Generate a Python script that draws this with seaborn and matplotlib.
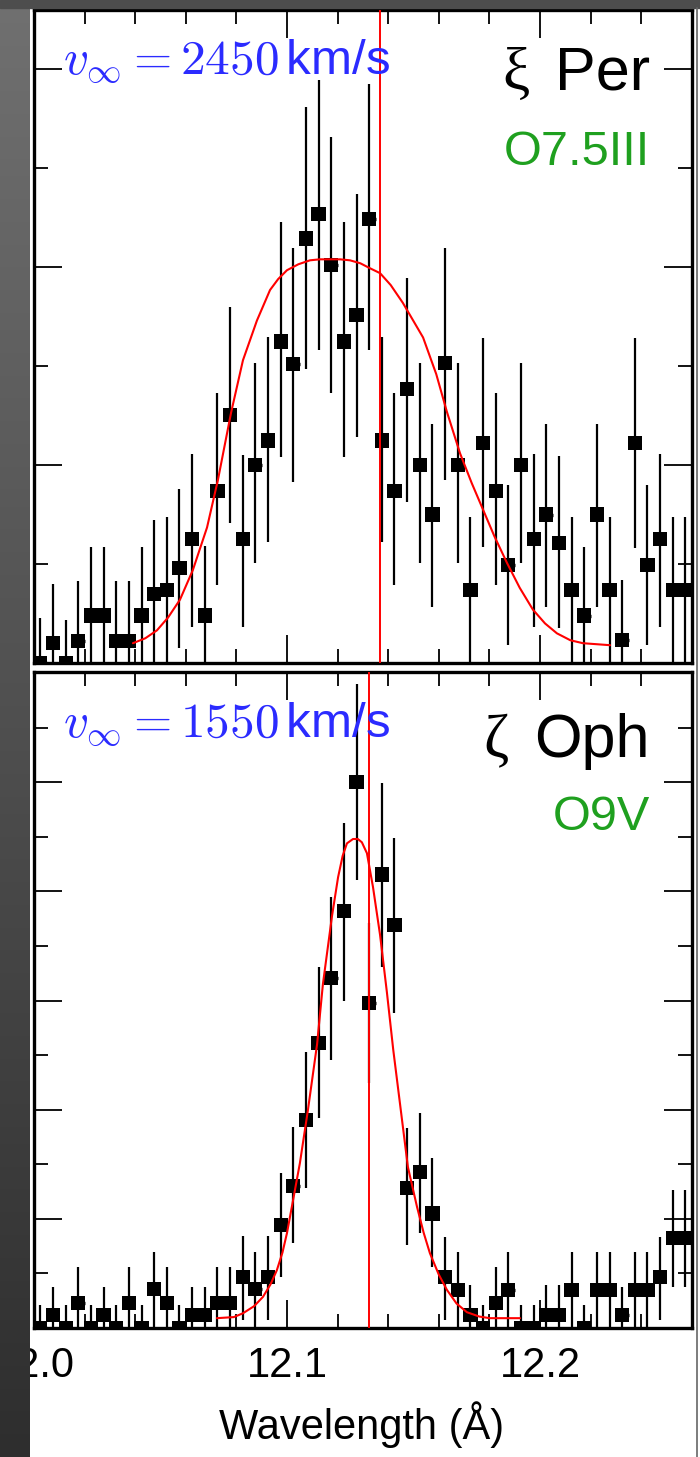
import numpy as np
import pandas as pd
import matplotlib
matplotlib.use("Agg")
import matplotlib.pyplot as plt
import seaborn as sns
from matplotlib.ticker import MultipleLocator, FormatStrFormatter
from matplotlib.patches import Rectangle
from matplotlib.lines import Line2D
from matplotlib.colors import LinearSegmentedColormap

# ---------------- data ----------------
bin_width = 0.005
wavelength = [12.0025, 12.0075, 12.0125, 12.0175, 12.0225, 12.0275, 12.0325, 12.0375,
              12.0425, 12.0475, 12.0525, 12.0575, 12.0625, 12.0675, 12.0725, 12.0775,
              12.0825, 12.0875, 12.0925, 12.0975, 12.1025, 12.1075, 12.1125, 12.1175,
              12.1225, 12.1275, 12.1325, 12.1375, 12.1425, 12.1475, 12.1525, 12.1575,
              12.1625, 12.1675, 12.1725, 12.1775, 12.1825, 12.1875, 12.1925, 12.1975,
              12.2025, 12.2075, 12.2125, 12.2175, 12.2225, 12.2275, 12.2325, 12.2375,
              12.2425, 12.2475, 12.2525, 12.2575]

# xi Per
xi_counts = [0.00, 0.20, 0.00, 0.22, 0.48, 0.48, 0.22, 0.22, 0.48, 0.70, 0.74, 0.96, 1.25,
             0.48, 1.74, 2.51, 1.25, 2.00, 2.25, 3.25, 3.02, 4.29, 4.54, 4.02, 3.25, 3.52,
             4.49, 2.25, 1.74, 2.77, 2.00, 1.50, 3.03, 2.00, 0.74, 2.22, 1.74, 0.99, 2.00,
             1.25, 1.50, 1.21, 0.74, 0.48, 1.50, 0.74, 0.23, 2.22, 0.99, 1.25, 0.74, 0.74]
xi_high = [0.45, 0.80, 0.43, 0.83, 1.17, 1.17, 0.83, 0.83, 1.17, 1.45, 1.48, 1.76, 2.11,
           1.18, 2.73, 3.60, 2.10, 3.03, 3.30, 4.46, 4.19, 5.62, 5.89, 5.32, 4.46, 4.74,
           5.85, 3.30, 2.73, 3.89, 3.03, 2.42, 4.19, 3.03, 1.48, 3.28, 2.73, 1.80, 3.03,
           2.11, 2.42, 2.09, 1.48, 1.17, 2.42, 1.48, 0.84, 3.28, 1.80, 2.11, 1.48, 1.48]
xi_low = [0.00, 0.00, 0.00, 0.00, 0.00, 0.00, 0.00, 0.00, 0.00, 0.00, 0.00, 0.15, 0.36,
          0.00, 0.79, 1.41, 0.36, 1.01, 1.22, 2.08, 1.83, 2.97, 3.16, 2.73, 2.08, 2.28,
          3.16, 1.22, 0.79, 1.63, 1.01, 0.57, 1.85, 1.01, 0.00, 1.17, 0.79, 0.18, 1.01,
          0.36, 0.57, 0.35, 0.00, 0.00, 0.57, 0.00, 0.00, 1.16, 0.18, 0.36, 0.00, 0.00]
xi_model_wl = [12.0391, 12.0440, 12.0486, 12.0530, 12.0577, 12.0628, 12.0684, 12.0727,
               12.0779, 12.0826, 12.0881, 12.0933, 12.0965, 12.1000, 12.1045, 12.1091,
               12.1130, 12.1170, 12.1210, 12.1249, 12.1290, 12.1328, 12.1368, 12.1410,
               12.1458, 12.1538, 12.1590, 12.1632, 12.1684, 12.1730, 12.1775, 12.1820,
               12.1870, 12.1920, 12.1972, 12.2020, 12.2067, 12.2120, 12.2170, 12.2277]
xi_model = [0.20, 0.25, 0.33, 0.46, 0.64, 0.94, 1.37, 1.85, 2.53, 3.06, 3.46, 3.77, 3.88,
            3.97, 4.03, 4.07, 4.08, 4.08, 4.08, 4.07, 4.04, 3.99, 3.94, 3.82, 3.64, 3.29,
            2.92, 2.54, 2.12, 1.82, 1.55, 1.28, 1.01, 0.76, 0.54, 0.40, 0.30, 0.23, 0.20,
            0.18]
xi_line = 12.1368

# zeta Oph
zeta_counts = [0.00, 0.24, 0.00, 0.46, 0.00, 0.24, 0.00, 0.46, 0.00, 0.71, 0.46, 0.00, 0.24,
               0.24, 0.46, 0.46, 0.94, 0.71, 0.94, 1.89, 2.60, 3.81, 5.22, 6.41, 7.64, 10.00,
               5.95, 8.31, 7.38, 2.56, 2.86, 2.10, 0.94, 0.70, 0.24, 0.00, 0.46, 0.70, 0.00,
               0.00, 0.24, 0.24, 0.70, 0.00, 0.70, 0.70, 0.24, 0.70, 0.70, 0.94, 1.65, 1.65]
zeta_high = [0.42, 0.75, 0.42, 1.12, 0.42, 0.75, 0.42, 1.12, 0.42, 1.39, 1.12, 0.42, 0.75,
             0.75, 1.12, 1.12, 1.68, 1.39, 1.68, 2.84, 3.68, 5.06, 6.61, 7.89, 9.25, 11.80,
             7.42, 9.98, 8.97, 3.66, 3.94, 3.11, 1.66, 1.39, 0.79, 0.42, 1.12, 1.39, 0.42,
             0.42, 0.79, 0.79, 1.39, 0.42, 1.39, 1.39, 0.75, 1.39, 1.39, 1.66, 2.53, 2.53]
zeta_low = [0.00, 0.00, 0.00, 0.00, 0.00, 0.00, 0.00, 0.00, 0.00, 0.02, 0.00, 0.00, 0.00,
            0.00, 0.00, 0.00, 0.15, 0.02, 0.15, 0.94, 1.56, 2.56, 3.84, 4.91, 6.00, 8.20,
            4.49, 6.61, 5.77, 1.52, 1.74, 1.12, 0.15, 0.00, 0.00, 0.00, 0.00, 0.00, 0.00,
            0.00, 0.00, 0.00, 0.00, 0.00, 0.00, 0.00, 0.00, 0.00, 0.00, 0.15, 0.75, 0.75]
zeta_model_wl = [12.0723, 12.0790, 12.0826, 12.0870, 12.0905, 12.0935, 12.0960, 12.0982,
                 12.1000, 12.1024, 12.1051, 12.1083, 12.1119, 12.1142, 12.1178, 12.1202,
                 12.1220, 12.1237, 12.1261, 12.1280, 12.1296, 12.1316, 12.1340, 12.1368,
                 12.1395, 12.1420, 12.1447, 12.1478, 12.1514, 12.1540, 12.1565, 12.1600,
                 12.1632, 12.1670, 12.1711, 12.1760, 12.1802, 12.1921]
zeta_model = [0.18, 0.20, 0.27, 0.40, 0.57, 0.80, 1.06, 1.38, 1.74, 2.34, 3.02, 4.00, 5.20,
              6.30, 7.55, 8.26, 8.65, 8.88, 8.96, 8.96, 8.90, 8.70, 8.08, 7.20, 6.15, 5.10,
              4.10, 2.95, 2.22, 1.75, 1.37, 0.98, 0.70, 0.45, 0.29, 0.21, 0.18, 0.18]
zeta_line = 12.1324

x_ticks_major = [12.0, 12.1, 12.2]

panels = [
    dict(name="ξ", star="Per", sptype="O7.5III", vinf="2450",
         counts=xi_counts, low=xi_low, high=xi_high,
         mwl=xi_model_wl, model=xi_model, line=xi_line, ylim=(0, 6.6)),
    dict(name="ζ", star="Oph", sptype="O9V", vinf="1550",
         counts=zeta_counts, low=zeta_low, high=zeta_high,
         mwl=zeta_model_wl, model=zeta_model, line=zeta_line, ylim=(0, 12.02)),
]

# ---------------- style ----------------
sns.set_theme(style="ticks")
plt.rcParams['font.family'] = ['Liberation Sans', 'DejaVu Sans']
plt.rcParams['mathtext.fontset'] = 'cm'
for key in ['axes.edgecolor', 'xtick.color', 'ytick.color', 'text.color',
            'axes.labelcolor', 'xtick.labelcolor', 'ytick.labelcolor']:
    plt.rcParams[key] = 'black'

W, H = 700, 1457
fig = plt.figure(figsize=(W / 100, H / 100), dpi=100)
fig.patch.set_facecolor('white')


def fx(px):
    return px / W


def fy(py):
    return 1 - py / H


ax1 = fig.add_axes([fx(34), fy(663), fx(692) - fx(34), fy(10) - fy(663)])
ax2 = fig.add_axes([fx(34), fy(1328), fx(692) - fx(34), fy(672) - fy(1328)])

text_px = [  # (v_inf baseline, name baseline, sptype baseline)
    (75, 90, 165),
    (738, 757, 830),
]
name_cx = [516, 496]

for ax, p, (yv, yn, ys), ncx in zip([ax1, ax2], panels, text_px, name_cx):
    df = pd.DataFrame({"wl": wavelength, "counts": p["counts"],
                       "low": p["low"], "high": p["high"]})
    mdf = pd.DataFrame({"wl": p["mwl"], "model": p["model"]})

    # vertical error bars
    ax.errorbar(df["wl"], df["counts"],
                yerr=[df["counts"] - df["low"], df["high"] - df["counts"]],
                fmt='none', ecolor='black', elinewidth=1.6, capsize=0, zorder=2)
    # horizontal bin-width bars
    ax.errorbar(df["wl"], df["counts"], xerr=bin_width / 2,
                fmt='none', ecolor='black', elinewidth=2.4, capsize=0, zorder=2)
    sns.scatterplot(data=df, x="wl", y="counts", ax=ax, marker='s', s=105,
                    color='black', edgecolor='none', zorder=3, legend=False)
    sns.lineplot(data=mdf, x="wl", y="model", ax=ax, color='red', lw=1.5,
                 sort=False, zorder=4)
    ax.axvline(p["line"], color='red', lw=1.4, zorder=4)

    ax.set_xlim(12.0, 12.2601)
    ax.set_ylim(*p["ylim"])
    ax.set_xticks(x_ticks_major)
    ax.xaxis.set_minor_locator(MultipleLocator(0.02))
    ax.xaxis.set_major_formatter(FormatStrFormatter('%.1f'))
    ax.yaxis.set_major_locator(MultipleLocator(2))
    ax.yaxis.set_minor_locator(MultipleLocator(1))
    ax.tick_params(which='both', direction='in', top=True, right=True,
                   labelleft=False, color='black')
    ax.tick_params(which='major', length=20, width=1.3)
    ax.tick_params(which='minor', length=10, width=1.3)
    for s in ax.spines.values():
        s.set_linewidth(2.4)
        s.set_color('black')
    ax.set_ylabel('')
    ax.set_xlabel('')
    ax.set_facecolor('white')

    # annotations
    fig.text(fx(63), fy(yv), r'$v_{\infty} = %s\,$km/s' % p["vinf"], color='#2b2bff',
             fontsize=35.5, ha='left', va='baseline')
    fig.text(fx(ncx), fy(yn), p["name"], color='black', fontsize=44,
             family=['Liberation Serif', 'DejaVu Serif'], ha='center', va='baseline')
    fig.text(fx(650), fy(yn), p["star"], color='black', fontsize=44,
             ha='right', va='baseline')
    fig.text(fx(650), fy(ys), p["sptype"], color='#1fa01f', fontsize=35,
             ha='right', va='baseline')

ax1.tick_params(labelbottom=False)
ax2.tick_params(axis='x', labelsize=30, pad=13, labelcolor='black')
ax2.set_xlabel("Wavelength (Å)", fontsize=30, color='black')
ax2.xaxis.set_label_coords(0.4985, -0.112)

# dark frame around the slide
axg = fig.add_axes([0, 0, fx(30), 1], zorder=10)
cm = LinearSegmentedColormap.from_list('g', ['#707070', '#2e2e2e'])
axg.imshow(np.linspace(0, 1, 256)[:, None], cmap=cm, aspect='auto',
           extent=[0, 1, 0, 1])
axg.axis('off')
fig.add_artist(Rectangle((0, fy(8)), 1, 8 / H, transform=fig.transFigure,
                         color='#4d4d4d', zorder=20))
fig.add_artist(Line2D([fx(697), fx(697)], [0, fy(8)], transform=fig.transFigure,
                      color='#666666', lw=1.2, zorder=20))

fig.savefig("out.png", dpi=100, facecolor='white')
